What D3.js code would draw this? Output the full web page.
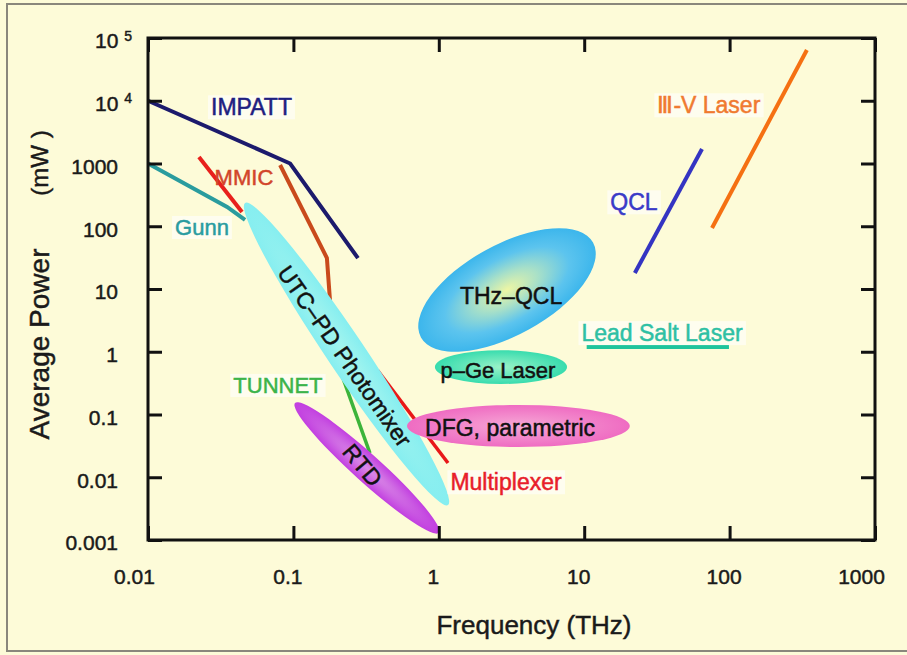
<!DOCTYPE html>
<html>
<head>
<meta charset="utf-8">
<script src="https://cdn.jsdelivr.net/npm/d3@7"></script>
<style>
  html, body { margin: 0; padding: 0; background: #fdfbd8; }
  svg { display: block; }
  text { font-family: "Liberation Sans", Arial, "Noto Sans", sans-serif; }
</style>
</head>
<body>
<svg id="chart" width="907" height="655"></svg>
<script>
// ---- axis ticks ----
const freqTicks = [0.01, 0.1, 1, 10, 100, 1000];
const freqTickLabels = ["0.01", "0.1", "1", "10", "100", "1000"];
const powerTicks = [0.001, 0.01, 0.1, 1, 10, 100, 1000, 1e4, 1e5];
const powerTickLabels = ["0.001", "0.01", "0.1", "1", "10", "100", "1000", "10^4", "10^5"];

// ---- source curves: [frequency THz, average power mW] ----
const impatt      = [[0.01, 1e4], [0.095, 1000], [0.278, 31]];
const mmicLow     = [[0.0224, 1270], [0.0443, 169]];
const mmicHigh    = [[0.081, 946], [0.170, 31.2], [0.179, 6.0], [0.187, 1.28]];
const gunn        = [[0.01, 1000], [0.035, 203], [0.0465, 126]];
const tunnet      = [[0.21, 0.5], [0.336, 0.0243]];
const multiplexer = [[0.38, 0.5], [1.157, 0.0169]];
const qcl         = [[22.3, 18], [64.6, 1700]];
const iiiVLaser   = [[75.7, 93.8], [340, 64400]];
const leadSalt    = [[10.4, 1.19], [99, 1.19]];

// ---- source regions: major-axis ends [f, P] and half thickness (decades of power) ----
const utcPdRegion  = [[0.0465, 235], [1.157, 0.0036], 0.30];
const rtdRegion    = [[0.1026, 0.152], [1.0, 0.0013], 0.22];
const dfgRegion    = [[0.604, 0.0656], [20.6, 0.0656], 0.335];
const thzQclRegion = [[0.754, 1.69], [11.5, 55], 0.72];
const pGeRegion    = [[0.94, 0.57], [7.62, 0.57], 0.27];

// ---- label anchors [text, f, P] ----
const labelImpatt   = ["IMPATT", 0.0515, 7940];
const labelMmic     = ["MMIC", 0.0457, 610];
const labelGunn     = ["Gunn", 0.0235, 97];
const labelTunnet   = ["TUNNET", 0.0783, 0.295];
const labelThzQcl   = ["THz\u2013QCL", 3.14, 7.7];
const labelPGe      = ["p\u2013Ge Laser", 2.55, 0.51];
const labelDfg      = ["DFG, parametric", 3.09, 0.061];
const labelMux      = ["Multiplexer", 2.9, 0.0084];
const labelLeadSalt = ["Lead Salt Laser", 34.3, 2.0];
const labelIiiV     = ["\u2162-V Laser", 72, 8550];
const labelQcl      = ["QCL", 22, 243];
const labelUtc      = ["UTC\u2013PD Photomixer", 0.226, 0.855];
const labelRtd      = ["RTD", 0.30, 0.0157];

const svg = d3.select("#chart");
const W = 907, H = 655;
const plot = { left: 148, right: 875, top: 38, bottom: 540 };

const x = d3.scaleLog().domain([0.01, 1000]).range([plot.left, plot.right]);
const y = d3.scaleLog().domain([0.001, 1e5]).range([plot.bottom, plot.top]);
const pxPerDecade = (plot.bottom - plot.top) / 8;

// page background and outer frame
svg.append("rect").attr("width", W).attr("height", H).attr("fill", "#fdfbd8");
svg.append("rect").attr("x", 7).attr("y", 4).attr("width", W + 10).attr("height", 647)
  .attr("fill", "none").attr("stroke", "#8a877c").attr("stroke-width", 2);

const defs = svg.append("defs");
function radial(id, stops) {
  const g = defs.append("radialGradient").attr("id", id)
    .attr("cx", "50%").attr("cy", "50%").attr("r", "50%");
  stops.forEach(([o, c]) => g.append("stop").attr("offset", o).attr("stop-color", c));
}
radial("gThz", [["0%", "#eef6a4"], ["35%", "#a8e0c8"], ["70%", "#5cc4ee"], ["100%", "#3cb6ec"]]);
radial("gPge", [["0%", "#9af2c8"], ["100%", "#38dcae"]]);
radial("gDfg", [["0%", "#f6a8d6"], ["100%", "#ef6cc2"]]);
radial("gRtd", [["0%", "#d98ae6"], ["100%", "#c23fe0"]]);
radial("gUtc", [["0%", "#a2f4ee"], ["100%", "#86eef0"]]);

const line = d3.line().x(d => x(d[0])).y(d => y(d[1]));
const marks = svg.append("g");

function curve(data, color, width) {
  marks.append("path").datum(data).attr("d", line)
    .attr("fill", "none").attr("stroke", color).attr("stroke-width", width)
    .attr("stroke-linejoin", "miter").attr("stroke-linecap", "butt");
}

function region(r, fill) {
  const [a, b, half] = r;
  const x1 = x(a[0]), y1 = y(a[1]), x2 = x(b[0]), y2 = y(b[1]);
  const len = Math.hypot(x2 - x1, y2 - y1);
  const ang = Math.atan2(y2 - y1, x2 - x1) * 180 / Math.PI;
  marks.append("ellipse")
    .attr("transform", `translate(${(x1 + x2) / 2},${(y1 + y2) / 2}) rotate(${ang})`)
    .attr("rx", len / 2).attr("ry", half * pxPerDecade)
    .attr("fill", fill);
}

// low-frequency electronic sources
curve(mmicHigh, "#c94a1c", 4);
curve(mmicLow, "#e8201c", 4);
curve(impatt, "#1c1a6c", 4);
curve(gunn, "#2a9c9e", 4);
curve(tunnet, "#3cb43a", 3.5);
curve(multiplexer, "#e81818", 3.5);

// regions
region(utcPdRegion, "url(#gUtc)");
region(rtdRegion, "url(#gRtd)");
region(dfgRegion, "url(#gDfg)");
region(thzQclRegion, "url(#gThz)");
region(pGeRegion, "url(#gPge)");

// optical sources
curve(qcl, "#3434c2", 4);
curve(iiiVLaser, "#f57012", 4);
curve(leadSalt, "#1fc49c", 4);

// axes: inward ticks on all four sides
const axes = svg.append("g").attr("class", "axes");
const tickLen = 14;

const xb = d3.axisBottom(x).tickValues(freqTicks)
  .tickFormat((d, i) => freqTickLabels[i]).tickSizeInner(-tickLen).tickSizeOuter(0).tickPadding(29);
const xt = d3.axisTop(x).tickValues(freqTicks).tickFormat("").tickSizeInner(-tickLen).tickSizeOuter(0);
const yl = d3.axisLeft(y).tickValues(powerTicks)
  .tickFormat((d, i) => powerTickLabels[i]).tickSizeInner(-tickLen).tickSizeOuter(0).tickPadding(30);
const yr = d3.axisRight(y).tickValues(powerTicks).tickFormat("").tickSizeInner(-tickLen).tickSizeOuter(0);

function styleAxis(g) {
  g.select(".domain").remove();
  g.selectAll(".tick line").attr("stroke", "#111").attr("stroke-width", 3);
  g.selectAll(".tick text").attr("fill", "#1a1a1a").attr("font-size", 21)
    .attr("stroke", "#1a1a1a").attr("stroke-width", 0.45)
    .attr("font-family", "'Liberation Sans', Arial, sans-serif");
}

const gxb = axes.append("g").attr("transform", `translate(0,${plot.bottom})`).call(xb).call(styleAxis);
axes.append("g").attr("transform", `translate(0,${plot.top})`).call(xt).call(styleAxis);
const gyl = axes.append("g").attr("transform", `translate(${plot.left},0)`).call(yl).call(styleAxis);
axes.append("g").attr("transform", `translate(${plot.right},0)`).call(yr).call(styleAxis);

gxb.selectAll(".tick text").attr("dx", (d, i) => (i === 0 || i === freqTicks.length - 1) ? -14 : -6);
gyl.selectAll(".tick text").each(function (d, i) {
  const t = d3.select(this);
  t.attr("dy", "0.47em");
  const lab = powerTickLabels[i];
  if (lab.includes("^")) {
    const [base, exp] = lab.split("^");
    t.text(null).attr("x", -16);
    t.append("tspan").text(base);
    t.append("tspan").text(" ");
    t.append("tspan").text(exp).attr("font-size", 14).attr("dy", "-0.55em");
  }
});

// plot frame
axes.append("rect")
  .attr("x", plot.left).attr("y", plot.top)
  .attr("width", plot.right - plot.left).attr("height", plot.bottom - plot.top)
  .attr("fill", "none").attr("stroke", "#111").attr("stroke-width", 3);

// axis titles
const titleStyle = t => t.attr("fill", "#1a1a1a").attr("stroke", "#1a1a1a").attr("stroke-width", 0.45);
svg.append("text").attr("x", 534).attr("y", 634).attr("text-anchor", "middle")
  .attr("font-size", 26).call(titleStyle).text("Frequency (THz)");
svg.append("text").attr("transform", "translate(49,344) rotate(-90)").attr("text-anchor", "middle")
  .attr("font-size", 28).call(titleStyle).text("Average Power");
svg.append("text").attr("transform", "translate(48,163) rotate(-90)").attr("text-anchor", "middle")
  .attr("font-size", 24).call(titleStyle).text("(mW )");

// labels
const labels = svg.append("g");
function label(l, color, size, boxed, rot) {
  const [txt, f, p] = l;
  const g = labels.append("g")
    .attr("transform", `translate(${x(f)},${y(p)}) rotate(${rot || 0})`);
  const t = g.append("text").attr("text-anchor", "middle").attr("dy", "0.36em")
    .attr("font-size", size).attr("fill", color)
    .attr("stroke", color).attr("stroke-width", 0.5).text(txt);
  if (boxed) {
    const bb = t.node().getBBox();
    g.insert("rect", "text")
      .attr("x", bb.x - 3).attr("y", bb.y + 1).attr("width", bb.width + 6).attr("height", bb.height - 2)
      .attr("fill", "#ffffff").attr("opacity", 0.6);
  }
}
label(labelImpatt, "#1e2080", 23, true);
label(labelMmic, "#d2452a", 22, false);
label(labelGunn, "#2a9ca0", 22, true);
label(labelTunnet, "#3cb44a", 22, true);
label(labelThzQcl, "#111", 23, false);
label(labelPGe, "#111", 22, false);
label(labelDfg, "#111", 23, false);
label(labelMux, "#e81e2a", 23, true);
label(labelLeadSalt, "#2ec0a4", 23, true);
label(labelIiiV, "#f07a30", 23, true);
label(labelQcl, "#3a3ac8", 23, true);
label(labelUtc, "#111", 23, false, 55);
label(labelRtd, "#111", 23, false, 50);
</script>
</body>
</html>
